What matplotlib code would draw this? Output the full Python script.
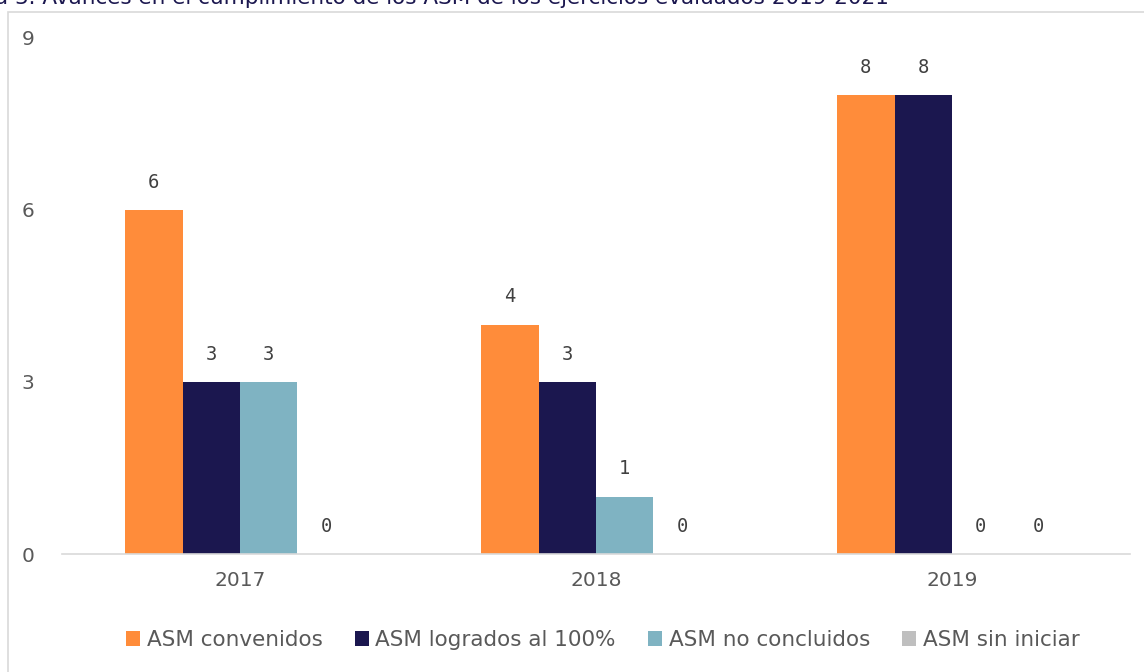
import matplotlib
matplotlib.use("Agg")
import matplotlib.pyplot as plt
import numpy as np
from matplotlib.patches import Rectangle

years = ["2017", "2018", "2019"]
series_names = ["ASM convenidos", "ASM logrados al 100%", "ASM no concluidos", "ASM sin iniciar"]
convenidos = [6, 4, 8]
logrados = [3, 3, 8]
no_concluidos = [3, 1, 0]
sin_iniciar = [0, 0, 0]
colors = ["#FF8C3A", "#1B174F", "#7FB3C2", "#BFBFBF"]

all_series = [convenidos, logrados, no_concluidos, sin_iniciar]

fig = plt.figure(figsize=(11.44, 6.72), dpi=100)
fig.patch.set_facecolor("white")

# outer chart border
fig.add_artist(Rectangle((8 / 1144, -0.05), 1.2, (672 - 12) / 672 + 0.05,
                         transform=fig.transFigure, fill=False,
                         edgecolor="#D9D9D9", linewidth=1.2))

# cut-off title at the very top (as in the source image)
fig.text(-0.06, 1 + 3 / 672, "Gráfica 3. Avances en el cumplimiento de los ASM de los ejercicios evaluados 2019-2021",
         ha="left", va="center", fontsize=15.5, color="#1B174F", family="DejaVu Sans")

ax = fig.add_axes([62 / 1144, 1 - 554 / 672, (1130 - 62) / 1144, (554 - 38) / 672])
x = np.arange(len(years))
w = 0.1615
for i, (vals, name, c) in enumerate(zip(all_series, series_names, colors)):
    pos = x + (i - 1.5) * w
    ax.bar(pos, vals, width=w, color=c, label=name)
    for p, v in zip(pos, vals):
        ax.annotate(str(v), (p, v), xytext=(0, 20), textcoords="offset points",
                    ha="center", va="center", fontsize=13.5, color="#404040",
                    family="DejaVu Sans Mono")

ax.set_xlim(-0.5, 2.5)
ax.set_ylim(0, 9)
ax.set_yticks([0, 3, 6, 9])
ax.set_xticks(x)
ax.set_xticklabels(years)
ax.tick_params(axis="both", length=0, labelsize=14.5, colors="#595959")
ax.tick_params(axis="y", pad=20)
ax.tick_params(axis="x", pad=12)
for s in ["top", "right", "left"]:
    ax.spines[s].set_visible(False)
ax.spines["bottom"].set_color("#D9D9D9")
ax.spines["bottom"].set_linewidth(1.2)
ax.set_facecolor("none")

leg = fig.legend(loc="center", bbox_to_anchor=(0.527, 1 - 640 / 672), ncol=4, frameon=False,
                 fontsize=15.5, handlelength=0.65, handleheight=0.65, handletextpad=0.3,
                 columnspacing=1.5)
for t in leg.get_texts():
    t.set_color("#595959")

fig.savefig("out.png", dpi=100)
